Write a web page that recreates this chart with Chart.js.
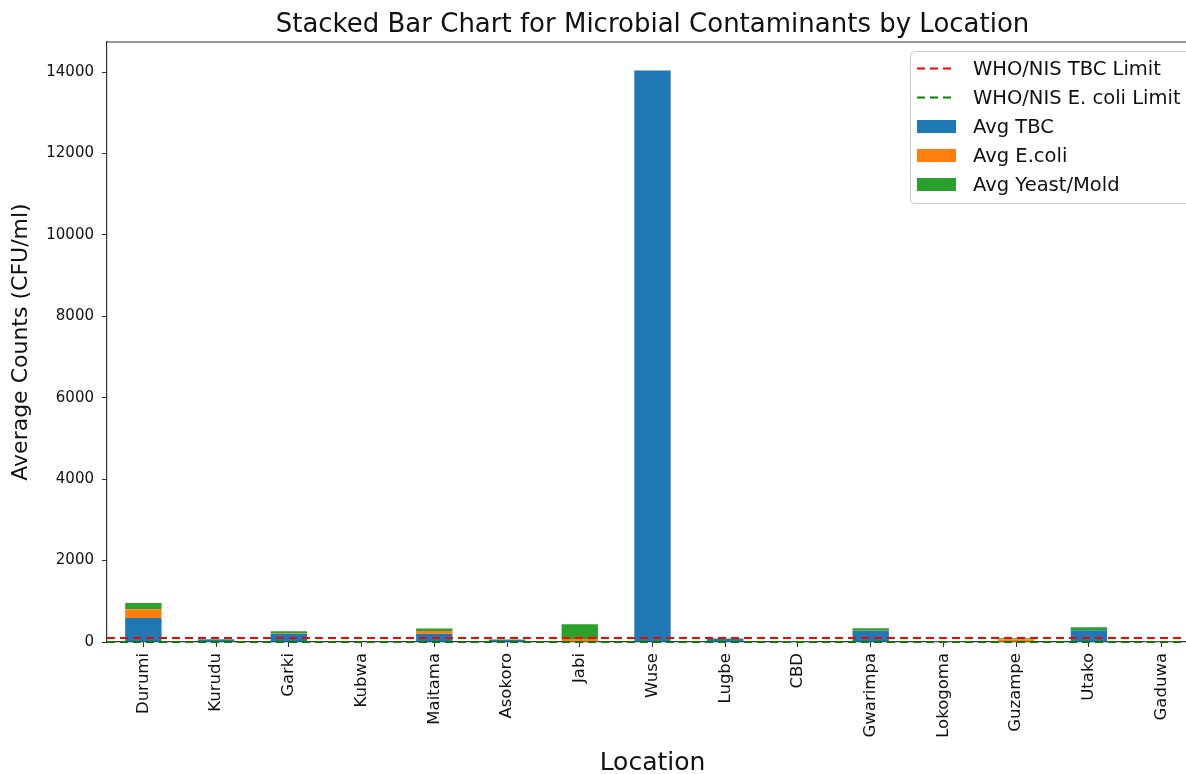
<!DOCTYPE html>
<html>
<head>
<meta charset="utf-8">
<script src="https://cdn.jsdelivr.net/npm/chart.js@4/dist/chart.umd.min.js"></script>
<style>
  html, body { margin: 0; padding: 0; background: #ffffff; overflow: hidden; }
  #wrap { width: 1200px; height: 774px; }
</style>
</head>
<body>
<div id="wrap"><canvas id="chart" width="1200" height="774"></canvas></div>
<script>
// Average counts per sampling location (CFU/ml)
const locations = ['Durumi', 'Kurudu', 'Garki', 'Kubwa', 'Maitama', 'Asokoro', 'Jabi', 'Wuse',
                   'Lugbe', 'CBD', 'Gwarimpa', 'Lokogoma', 'Guzampe', 'Utako', 'Gaduwa'];
const avgTBC       = [590, 60, 205, 10, 205, 55, 15, 14040, 75, 15, 270, 8, 10, 290, 8];
const avgEcoli     = [213, 5, 10, 0, 65, 5, 60, 0, 5, 0, 5, 2, 60, 5, 2];
const avgYeastMold = [155, 10, 50, 5, 60, 10, 360, 0, 10, 5, 60, 3, 20, 65, 3];

// Regulatory limits (CFU/ml)
const tbcLimit = 100;
const ecoliLimit = 0;

const yTicks = [0, 2000, 4000, 6000, 8000, 10000, 12000, 14000];
const yMax = 14740;

const FONT = "'DejaVu Sans', 'Liberation Sans', sans-serif";
const AXIS_COLOR = '#333333';
const TEXT_COLOR = '#111111';

const limitLines = [
  { label: 'WHO/NIS TBC Limit', value: tbcLimit, color: '#ff0000' },
  { label: 'WHO/NIS E. coli Limit', value: ecoliLimit, color: '#008000' }
];

// Title above the plot, centred on the axes
const titlePlugin = {
  id: 'plotTitle',
  afterDraw(chart) {
    const { ctx, chartArea } = chart;
    ctx.save();
    ctx.font = `26px ${FONT}`;
    ctx.fillStyle = TEXT_COLOR;
    ctx.textAlign = 'center';
    ctx.textBaseline = 'alphabetic';
    ctx.fillText('Stacked Bar Chart for Microbial Contaminants by Location',
                 (chartArea.left + chartArea.right) / 2, 32);
    ctx.restore();
  }
};

// Top and right spines of the axes box
const framePlugin = {
  id: 'frame',
  afterDatasetsDraw(chart) {
    const { ctx, chartArea: a } = chart;
    ctx.save();
    ctx.strokeStyle = AXIS_COLOR;
    ctx.lineWidth = 1.2;
    ctx.beginPath();
    ctx.moveTo(a.left, a.top);
    ctx.lineTo(a.right, a.top);
    ctx.lineTo(a.right, a.bottom);
    ctx.stroke();
    ctx.restore();
  }
};

// Horizontal dashed limit lines spanning the axes
const limitPlugin = {
  id: 'limits',
  afterDatasetsDraw(chart) {
    const { ctx, chartArea: a, scales } = chart;
    ctx.save();
    ctx.lineWidth = 2;
    ctx.setLineDash([8, 5]);
    limitLines.forEach(l => {
      const y = scales.y.getPixelForValue(l.value);
      ctx.strokeStyle = l.color;
      ctx.beginPath();
      ctx.moveTo(a.left, y);
      ctx.lineTo(a.right, y);
      ctx.stroke();
    });
    ctx.restore();
  }
};

// Legend box in the upper right corner of the axes
const legendPlugin = {
  id: 'boxLegend',
  afterDraw(chart) {
    const { ctx } = chart;
    const items = limitLines.map(l => ({ label: l.label, color: l.color, dashed: true }))
      .concat(chart.data.datasets.map(d => ({ label: d.label, color: d.backgroundColor, dashed: false })));
    const x0 = 910, y0 = 51, w = 280, h = 152, r = 4;
    ctx.save();
    ctx.fillStyle = 'rgba(255,255,255,0.85)';
    ctx.strokeStyle = '#cccccc';
    ctx.lineWidth = 1;
    ctx.beginPath();
    ctx.roundRect(x0 + 0.5, y0 + 0.5, w, h, r);
    ctx.fill();
    ctx.stroke();
    ctx.font = `19.5px ${FONT}`;
    ctx.textBaseline = 'middle';
    ctx.textAlign = 'left';
    items.forEach((it, i) => {
      const cy = 68.5 + i * 29;
      if (it.dashed) {
        ctx.strokeStyle = it.color;
        ctx.lineWidth = 2;
        ctx.setLineDash([8, 5]);
        ctx.beginPath();
        ctx.moveTo(917, cy);
        ctx.lineTo(956, cy);
        ctx.stroke();
        ctx.setLineDash([]);
      } else {
        ctx.fillStyle = it.color;
        ctx.fillRect(917, cy - 6.5, 39, 13);
      }
      ctx.fillStyle = TEXT_COLOR;
      ctx.fillText(it.label, 973, cy + 1);
    });
    ctx.restore();
  }
};

new Chart(document.getElementById('chart'), {
  type: 'bar',
  data: {
    labels: locations,
    datasets: [
      { label: 'Avg TBC', data: avgTBC, backgroundColor: '#1f77b4' },
      { label: 'Avg E.coli', data: avgEcoli, backgroundColor: '#ff7f0e' },
      { label: 'Avg Yeast/Mold', data: avgYeastMold, backgroundColor: '#2ca02c' }
    ]
  },
  options: {
    responsive: false,
    devicePixelRatio: 1,
    animation: false,
    layout: { padding: { top: 42, right: 2, left: 0, bottom: 0 } },
    datasets: { bar: { barPercentage: 0.5, categoryPercentage: 1.0 } },
    plugins: {
      legend: { display: false },
      title: { display: false },
      tooltip: { enabled: false }
    },
    scales: {
      x: {
        stacked: true,
        offset: true,
        grid: { display: true, drawOnChartArea: false, drawTicks: true, tickLength: 5, color: AXIS_COLOR, offset: false },
        border: { display: true, color: AXIS_COLOR, width: 1.2 },
        ticks: {
          autoSkip: false, minRotation: 90, maxRotation: 90, padding: 6,
          color: TEXT_COLOR, font: { family: FONT, size: 16.5 }
        },
        title: {
          display: true, text: 'Location', color: TEXT_COLOR,
          font: { family: FONT, size: 25 }, padding: { top: 0, bottom: -4 }
        },
        afterFit(scale) { scale.height = 132; }
      },
      y: {
        stacked: true,
        min: 0,
        max: yMax,
        grid: { display: true, drawOnChartArea: false, drawTicks: true, tickLength: 5, color: AXIS_COLOR },
        border: { display: true, color: AXIS_COLOR, width: 1.2 },
        afterBuildTicks(scale) { scale.ticks = yTicks.map(v => ({ value: v })); },
        ticks: {
          padding: 8, color: TEXT_COLOR, font: { family: FONT, size: 15 },
          callback: v => String(v)
        },
        title: {
          display: true, text: 'Average Counts (CFU/ml)', color: TEXT_COLOR,
          font: { family: FONT, size: 22 }, padding: { top: 8, bottom: 0 }
        },
        afterFit(scale) { scale.width = 107; }
      }
    }
  },
  plugins: [titlePlugin, limitPlugin, framePlugin, legendPlugin]
});
</script>
</body>
</html>
